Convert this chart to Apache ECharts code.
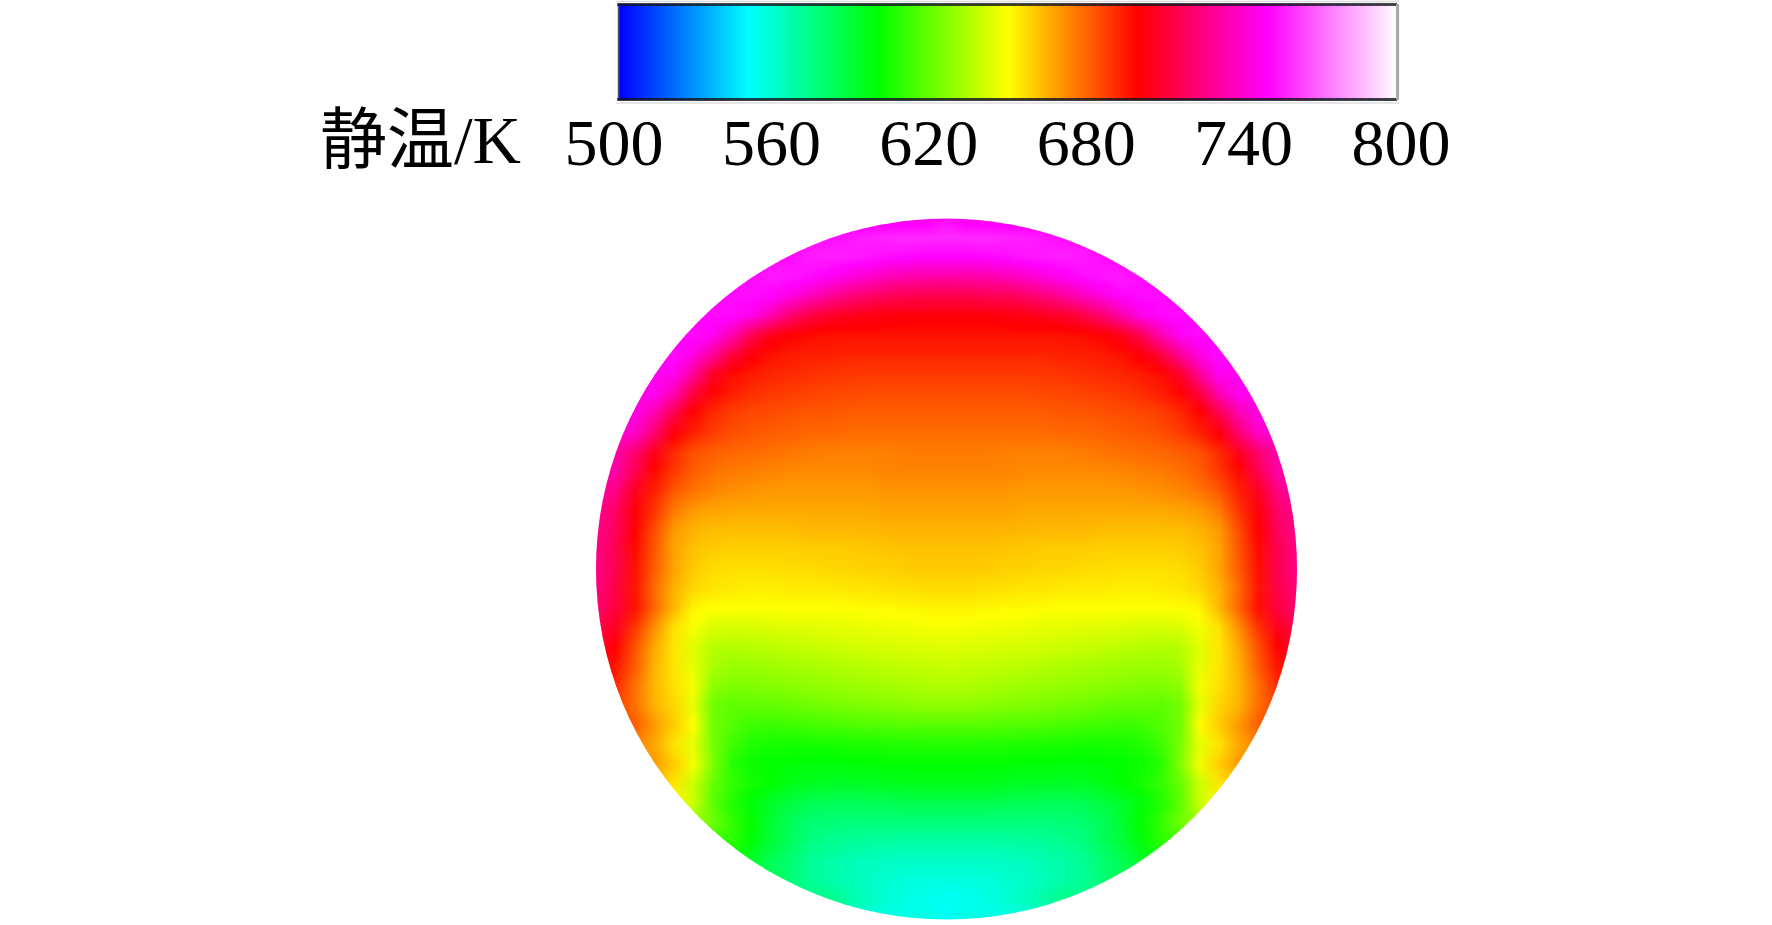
<!DOCTYPE html>
<html><head><meta charset="utf-8">
<style>html,body{margin:0;padding:0;background:#fff}#c{width:1772px;height:925px}</style>
<script src="https://cdn.jsdelivr.net/npm/echarts@6/dist/echarts.min.js"></script>
</head><body><div id="c"></div>
<script>
const titleText = '静温/K';
const tickInterval = 60;
const scaleMin = 500;
const scaleMax = 800;
const barRange = [502, 798.5];
const stopTemps = [500, 550, 600, 650, 700, 750, 800];
const stopColors = [[0,0,255],[0,255,255],[0,255,0],[255,255,0],[255,0,0],[255,0,255],[255,255,255]];
// Static temperature (K), one row per horizontal line, top to bottom, centred on the disc's axis.
const fieldRows = [
[745,752,745],
[752,754,756,757,758,758,758,758,758,757,756,754,752],
[750,752,755,756,755,754,752,751,750,750,750,751,752,754,755,756,755,752,750],
[752,755,754,752,748,744,740,736,734,733,733,733,734,736,740,744,748,752,754,755,752],
[750,752,752,750,744,737,730,724,720,717,716,715,715,715,716,717,720,724,730,737,744,750,752,752,750],
[750,752,751,746,734,722,713,708,706,704,703,702,702,702,702,702,703,704,706,708,713,722,734,746,751,752,750],
[748,752,748,735,716,705,700,698,697,697,697,697,697,697,697,697,697,697,697,697,697,698,700,705,716,735,748,752,748],
[748,752,745,730,712,702,697,695,694,694,693,693,693,693,693,693,693,693,693,693,693,694,694,695,697,702,712,730,745,752,748],
[746,748,730,708,698,695,693,692,691,690,689,689,689,689,689,689,689,689,689,689,689,690,691,692,693,695,698,708,730,748,746],
[745,748,735,712,699,694,691,689,688,687,686,686,685,685,685,685,685,685,685,685,685,686,686,687,688,689,691,694,699,712,735,748,745],
[742,745,735,715,699,692,688,686,685,684,683,683,682,682,682,682,682,682,682,682,682,682,682,683,683,684,685,686,688,692,699,715,735,745,742],
[743,740,722,702,694,688,685,683,682,681,680,680,679,679,679,679,679,679,679,679,679,679,679,680,680,681,682,683,685,688,694,702,722,740,743],
[733,722,706,692,684,682,680,679,678,677,676,675,675,675,675,676,676,676,676,676,675,675,675,675,676,677,678,679,680,682,684,692,706,722,733],
[735,733,716,698,689,682,678,676,675,674,673,673,673,673,673,674,674,674,674,674,674,674,673,673,673,673,673,674,675,676,678,682,689,698,716,733,735],
[732,726,706,694,683,677,674,672,671,670,670,670,670,670,670,671,671,671,671,671,671,671,670,670,670,670,670,670,671,672,674,677,683,694,706,726,732],
[728,720,702,690,676,670,668,667,667,667,667,667,667,667,667,668,668,668,668,668,668,668,667,667,667,667,667,667,667,667,668,670,676,690,702,720,728],
[727,718,700,685,670,665,663,663,663,663,663,664,664,664,664,665,665,665,665,665,665,665,664,664,664,664,663,663,663,663,663,665,670,685,700,718,727],
[726,716,698,683,668,662,660,659,659,659,659,660,660,660,661,661,662,662,662,662,662,661,661,660,660,660,659,659,659,659,660,662,668,683,698,716,726],
[726,716,697,682,668,660,657,656,656,656,657,657,658,658,659,659,660,660,660,660,660,659,659,658,658,657,657,656,656,656,657,660,668,682,697,716,726],
[724,714,696,679,665,658,655,654,653,653,654,654,654,655,655,656,656,657,657,657,656,656,655,655,654,654,654,653,653,654,655,658,665,679,696,714,724],
[722,713,697,680,664,652,650,650,650,650,650,650,650,650,651,651,652,652,652,652,652,651,651,650,650,650,650,650,650,650,650,652,664,680,697,713,722],
[716,706,690,672,656,648,643,642,642,643,644,644,645,645,646,647,647,648,648,648,647,647,646,645,645,644,644,643,642,642,643,648,656,672,690,706,716],
[710,700,684,667,655,644,636,635,636,637,638,639,640,641,642,642,643,643,644,643,643,642,642,641,640,639,638,637,636,635,636,644,655,667,684,700,710],
[703,696,682,665,655,645,633,630,630,631,632,633,634,635,636,637,638,638,639,638,638,637,636,635,634,633,632,631,630,630,633,645,655,665,682,696,703],
[692,678,664,656,648,628,625,625,626,627,628,629,630,631,632,633,634,634,634,633,632,631,630,629,628,627,626,625,625,628,648,656,664,678,692],
[688,678,665,658,645,622,618,619,619,620,622,623,624,625,626,627,628,628,628,627,626,625,624,623,622,620,619,619,618,622,645,658,665,678,688],
[686,682,670,660,650,622,616,612,611,612,613,614,615,616,616,617,617,617,617,617,616,616,615,614,613,612,611,612,616,622,650,660,670,682,686],
[675,667,655,645,623,612,606,604,604,604,604,605,605,606,606,607,607,607,606,606,605,605,604,604,604,604,606,612,623,645,655,667,675],
[670,660,648,625,607,602,600,599,598,598,599,599,600,600,600,600,600,600,600,599,599,598,598,599,600,602,607,625,648,660,670],
[662,655,640,620,610,604,600,596,594,593,593,593,594,595,595,595,595,595,594,593,593,593,594,596,600,604,610,620,640,655,662],
[650,640,618,606,598,592,587,584,583,583,584,584,585,585,585,585,585,584,584,583,583,584,587,592,598,606,618,640,650],
[630,622,610,601,590,583,578,577,576,576,576,576,576,576,576,576,576,576,576,577,578,583,590,601,610,622,630],
[612,608,598,589,582,575,572,570,569,568,568,568,568,568,568,568,569,570,572,575,582,589,598,608,612],
[600,592,583,578,571,567,565,563,562,561,561,561,561,561,562,563,565,567,571,578,583,592,600],
[583,577,571,567,564,561,559,557,556,556,556,557,559,561,564,567,571,577,583],
[574,568,563,558,555,553,552,553,555,558,563,568,574],
[555,552,555]
];
const rowGaps = fieldRows.slice(1).map(function (_, i) { return [i]; });

function colorOf(t) {
  t = Math.max(scaleMin, Math.min(scaleMax, t));
  let i = 0;
  while (i < stopTemps.length - 2 && t > stopTemps[i + 1]) i++;
  const f = (t - stopTemps[i]) / (stopTemps[i + 1] - stopTemps[i]);
  const a = stopColors[i], b = stopColors[i + 1];
  return 'rgb(' + [0, 1, 2].map(function (c) { return Math.round(a[c] + (b[c] - a[c]) * f); }).join(',') + ')';
}
const rowCount = fieldRows.length;
const centre = (rowCount - 1) / 2;
function at(j, k) {
  const row = fieldRows[j], half = (row.length - 1) / 2;
  const idx = half + Math.max(-half, Math.min(half, k));
  const lo = Math.floor(idx), hi = Math.ceil(idx);
  return (row[lo] + row[hi]) / 2;
}
const SHADE_STEPS = 6;
function renderField(params, api) {
  const j = params.dataIndex;
  const centrePt = api.coord([0, centre]);
  const radius = api.size([centre, 0])[0];
  const left = api.coord([-centre, 0])[0], right = api.coord([centre, 0])[0];
  const top = api.coord([0, j])[1], bottom = api.coord([0, j + 1])[1];
  const children = [];
  for (let s = 0; s < SHADE_STEPS; s++) {
    const f = (s + 0.5) / SHADE_STEPS;
    const colorStopsRow = [];
    for (let k = -centre; k <= centre; k++) {
      const v = at(j, k) * (1 - f) + at(j + 1, k) * f;
      colorStopsRow.push({ offset: (k + centre) / (2 * centre), color: colorOf(v) });
    }
    const y0 = top + (bottom - top) * s / SHADE_STEPS;
    children.push({
      type: 'rect',
      shape: { x: left, y: y0, width: right - left, height: (bottom - top) / SHADE_STEPS + 0.8 },
      style: { fill: { type: 'linear', x: 0, y: 0, x2: 1, y2: 0, colorStops: colorStopsRow } },
      silent: true
    });
  }
  return {
    type: 'group',
    clipPath: { type: 'circle', shape: { cx: centrePt[0], cy: centrePt[1], r: radius } },
    children: children
  };
}
function renderBar(params, api) {
  const p0 = api.coord([barRange[0], 1]), p1 = api.coord([barRange[1], 0]);
  const x = p0[0], y = p0[1], w = p1[0] - p0[0], h = p1[1] - p0[1];
  const line = function (x1, y1, x2, y2, c, lw) {
    return { type: 'line', shape: { x1: x1, y1: y1, x2: x2, y2: y2 }, style: { stroke: c, lineWidth: lw }, silent: true };
  };
  return {
    type: 'group',
    children: [
      { type: 'rect', shape: { x: x, y: y, width: w, height: h },
        style: { fill: { type: 'linear', x: 0, y: 0, x2: 1, y2: 0,
          colorStops: stopTemps.map(function (t) {
            return { offset: (t - scaleMin) / (scaleMax - scaleMin), color: colorOf(t) };
          }) } } , silent: true },
      line(x - 3, y - 2.5, x + w + 2, y - 2.5, '#d9d9d9', 1.5),
      line(x - 3, y + h + 3, x + w + 2, y + h + 3, '#dcdcdc', 1.5),
      line(x - 2, y + 0.5, x + w, y + 0.5, 'rgba(20,20,30,0.8)', 3),
      line(x - 2, y + h - 0.5, x + w, y + h - 0.5, 'rgba(20,20,30,0.82)', 3),
      line(x - 0.5, y, x - 0.5, y + h, 'rgba(20,20,80,0.75)', 2),
      line(x + w + 0.5, y, x + w + 0.5, y + h, '#a8a8a8', 3)
    ]
  };
}
const serif = '"Liberation Serif","Noto Sans CJK SC",serif';
const chart = echarts.init(document.getElementById('c'), null, { renderer: 'canvas' });
chart.setOption({
  animation: false,
  backgroundColor: '#fff',
  title: { text: titleText, left: 320, top: 112, padding: 0,
    textStyle: { fontSize: 67, fontWeight: 'normal', fontFamily: serif, color: '#000' } },
  grid: [
    { left: 614, top: 4, width: 787, height: 96 },
    { left: 596, top: 218, width: 701, height: 702 }
  ],
  xAxis: [
    { gridIndex: 0, type: 'value', min: scaleMin, max: scaleMax, interval: tickInterval,
      axisLine: { show: false }, axisTick: { show: false }, splitLine: { show: false },
      axisLabel: { fontSize: 66, fontFamily: serif, color: '#000', margin: 15, hideOverlap: false,
        showMinLabel: true, showMaxLabel: true } },
    { gridIndex: 1, type: 'value', min: -centre, max: centre, show: false }
  ],
  yAxis: [
    { gridIndex: 0, type: 'value', min: 0, max: 1, show: false },
    { gridIndex: 1, type: 'value', min: 0, max: rowCount - 1, inverse: true, show: false }
  ],
  series: [
    { type: 'custom', name: '色标', xAxisIndex: 0, yAxisIndex: 0, clip: false, silent: true,
      renderItem: renderBar, data: [[scaleMin, 0]] },
    { type: 'custom', name: '静温', xAxisIndex: 1, yAxisIndex: 1, clip: false, silent: true,
      renderItem: renderField, data: rowGaps, encode: { x: [], y: 0 } }
  ]
});
</script></body></html>
